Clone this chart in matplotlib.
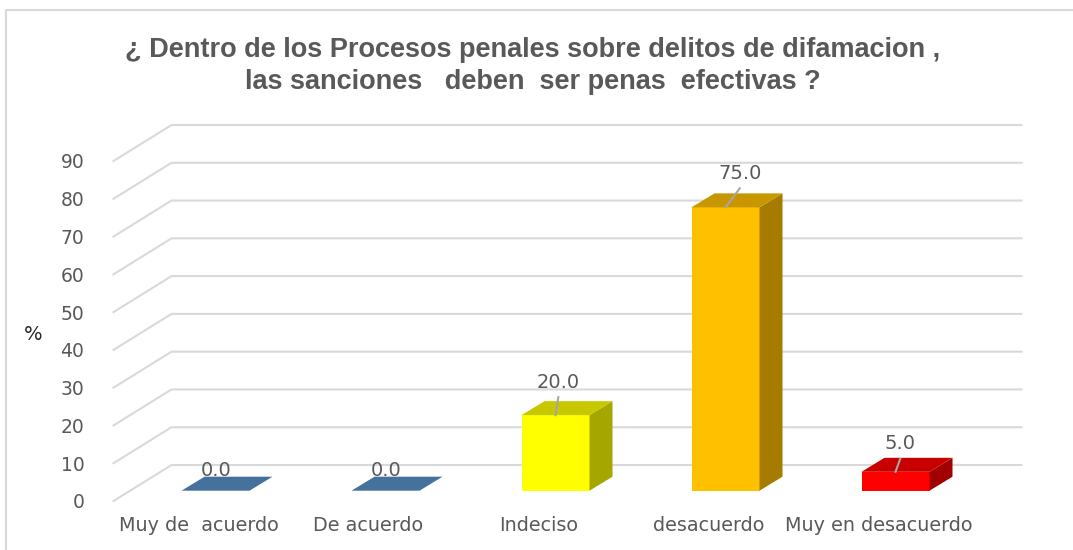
import matplotlib
matplotlib.use("Agg")
import matplotlib.pyplot as plt
from matplotlib.patches import Polygon
from matplotlib.lines import Line2D

# data
categories = ["Muy de  acuerdo", "De acuerdo", "Indeciso", "desacuerdo", "Muy en desacuerdo"]
values = [0.0, 0.0, 20.0, 75.0, 5.0]
yticks = [0, 10, 20, 30, 40, 50, 60, 70, 80, 90]
title = "¿ Dentro de los Procesos penales sobre delitos de difamacion ,\nlas sanciones   deben  ser penas  efectivas ?"

# colours: front, top, side
front_colors = ["#44729C", "#44729C", "#FFFF00", "#FFC000", "#FF0000"]
top_colors = ["#44729C", "#44729C", "#C8C800", "#C89600", "#C80000"]
side_colors = ["#44729C", "#44729C", "#A6A600", "#A67C00", "#A00000"]
# label offsets from the top of the bar front face (pixels)
label_offsets = [(1, 20), (1, 20), (3, 33), (15, 34), (5, 28)]

W, H = 1073, 550
fig = plt.figure(figsize=(W / 100, H / 100), dpi=100)
ax = fig.add_axes([113.5 / W, 49 / H, 850 / W, 340 / H])
ax.set_xlim(-0.5, len(categories) - 0.5)
ax.set_ylim(0, 90)
for s in ax.spines.values():
    s.set_visible(False)
ax.set_facecolor("none")

grey = "#595959"
ax.set_yticks(yticks)
ax.set_yticklabels([str(t) for t in yticks], fontsize=13.5, color=grey)
ax.set_xticks(range(len(categories)))
ax.set_xticklabels(categories, fontsize=13.8, color=grey)
ax.tick_params(axis="y", length=0, pad=21)
ax.tick_params(axis="x", length=0, pad=11)

# pixel -> data conversion
ux = (ax.get_xlim()[1] - ax.get_xlim()[0]) / 850.0
uy = (ax.get_ylim()[1] - ax.get_ylim()[0]) / 340.0


def off(px, py):
    return px * ux, py * uy


# gridlines: slanted side + back wall
gdx, gdy = off(58, 36)
x0, x1 = ax.get_xlim()
for t in yticks:
    ax.add_line(Line2D([x0, x0 + gdx, x1 + gdx], [t, t + gdy, t + gdy],
                       color="#D9D9D9", lw=1.5, zorder=1, clip_on=False))

# 3d-looking bars
fdx, fdy = off(17, 10.3)
ddx, ddy = off(23, 14)
hw = 0.2
for i, v in enumerate(values):
    xl, xr = i - hw + fdx, i + hw + fdx
    yb, yt = fdy, v + fdy
    if v > 0:
        ax.add_patch(Polygon([(xl, yb), (xr, yb), (xr, yt), (xl, yt)],
                             facecolor=front_colors[i], edgecolor="none", zorder=3, clip_on=False))
        ax.add_patch(Polygon([(xr, yb), (xr + ddx, yb + ddy), (xr + ddx, yt + ddy), (xr, yt)],
                             facecolor=side_colors[i], edgecolor="none", zorder=3, clip_on=False))
    ax.add_patch(Polygon([(xl, yt), (xr, yt), (xr + ddx, yt + ddy), (xl + ddx, yt + ddy)],
                         facecolor=top_colors[i], edgecolor="none", zorder=3, clip_on=False))
    # data label + leader
    lx, ly = off(*label_offsets[i])
    cx = i + fdx
    ax.text(cx + lx, yt + ly, "%.1f" % v, ha="center", va="center",
            fontsize=14, color=grey, zorder=5)
    if v > 0:
        sx, sy = off(label_offsets[i][0] * 0.95, label_offsets[i][1] - 15)
        ax.add_line(Line2D([cx + sx, cx], [yt + sy, yt], color="#A6A6A6", lw=1.5, zorder=4))

fig.text(33 / W, 1 - 335 / H, "%", fontsize=14, color="#262626", ha="center", va="center")
fig.text(533 / W, 1 - 66 / H, title, ha="center", va="center", fontsize=19.5,
         fontweight="bold", color=grey, linespacing=1.3,
         family=["Liberation Sans", "DejaVu Sans"])

# chart frame
fig.add_artist(Line2D([6 / W, 6 / W, 1.0], [0.0, 1 - 10 / H, 1 - 10 / H],
                      color="#D9D9D9", lw=1.5, transform=fig.transFigure))

fig.savefig("out.png", dpi=100)
